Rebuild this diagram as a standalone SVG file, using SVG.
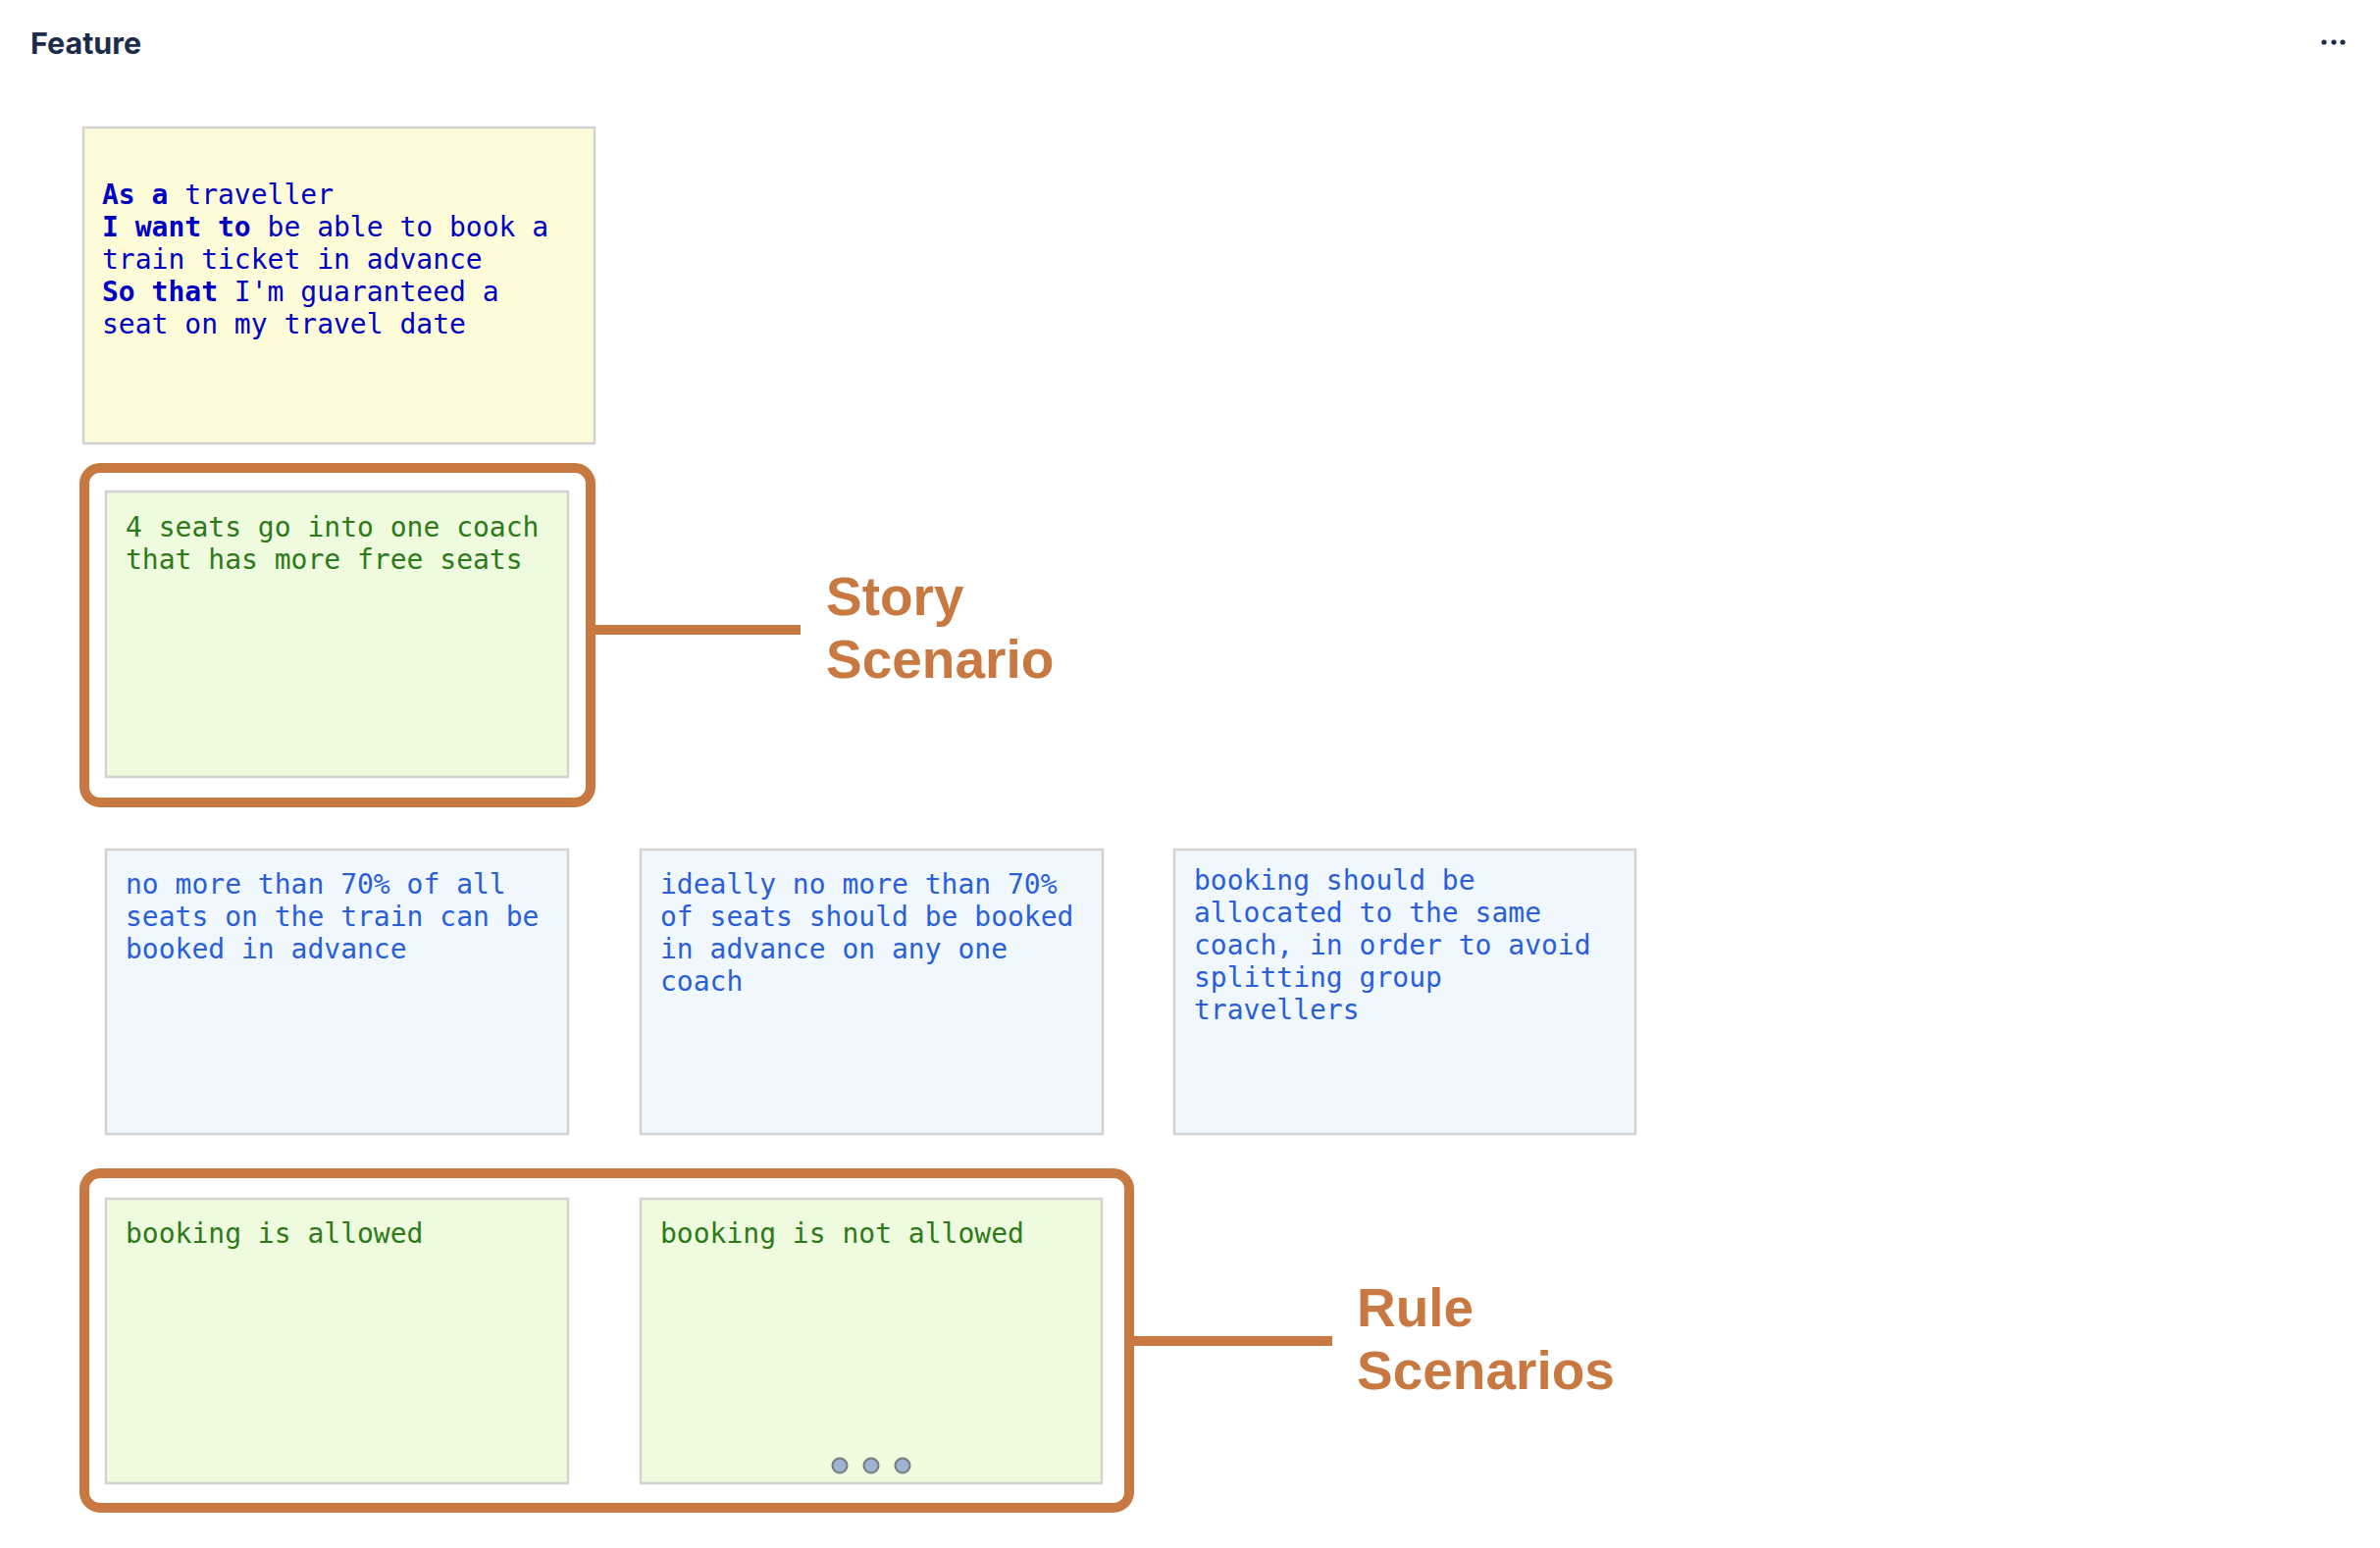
<svg xmlns="http://www.w3.org/2000/svg" width="2426" height="1578" viewBox="0 0 2426 1578">
<style>
.card{stroke:#d2d2d2;stroke-width:2.5}
.yellow{fill:#fefcd8}
.green{fill:#effbdf}
.blue{fill:#f0f7fd}
.mono{font-family:"DejaVu Sans Mono","Liberation Mono",monospace;font-size:28px}
.ty{fill:#0000c0}
.tg{fill:#2d7a18}
.tb{fill:#2a5fd8}
.frame{fill:none;stroke:#c87941;stroke-width:10}
.conn{stroke:#c87941;stroke-width:10;fill:none}
.label{font-family:"Liberation Sans",Arial,sans-serif;font-weight:bold;font-size:55px;fill:#c87941}
.dot{fill:#9db3d4;stroke:#7a7a7a;stroke-width:2}
</style>
<rect width="2426" height="1578" fill="#ffffff"/>
<text x="31" y="55" font-family="Inter,'Noto Sans',sans-serif" font-weight="700" font-size="30.5" fill="#1c2b4a">Feature</text>
<g id="menu" fill="#1c2b4a">
<circle cx="2369" cy="43" r="2.6"/>
<circle cx="2379" cy="43" r="2.6"/>
<circle cx="2388" cy="43" r="2.6"/>
</g>
<g id="story-card">
<rect class="card yellow" x="85" y="130" width="521" height="322"/>
<text class="mono ty"><tspan x="104" y="208"><tspan font-weight="bold">As a</tspan> traveller</tspan><tspan x="104" y="241"><tspan font-weight="bold">I want to</tspan> be able to book a</tspan><tspan x="104" y="274">train ticket in advance</tspan><tspan x="104" y="307"><tspan font-weight="bold">So that</tspan> I'm guaranteed a</tspan><tspan x="104" y="340">seat on my travel date</tspan></text>
</g>
<g id="story-scenario-frame">
<rect class="frame" x="86" y="477" width="516" height="341" rx="16"/>
</g>
<g id="story-scenario">
<rect class="card green" x="108" y="501" width="471" height="291"/>
<text class="mono tg"><tspan x="128" y="547">4 seats go into one coach</tspan><tspan x="128" y="580">that has more free seats</tspan></text>
</g>
<g id="story-scenario-label">
<text class="label"><tspan x="842" y="627">Story</tspan><tspan x="842" y="691">Scenario</tspan></text>
</g>
<g id="rule-1">
<rect class="card blue" x="108" y="866" width="471" height="290"/>
<text class="mono tb"><tspan x="128" y="911">no more than 70% of all</tspan><tspan x="128" y="944">seats on the train can be</tspan><tspan x="128" y="977">booked in advance</tspan></text>
</g>
<g id="rule-2">
<rect class="card blue" x="653" y="866" width="471" height="290"/>
<text class="mono tb"><tspan x="673" y="911">ideally no more than 70%</tspan><tspan x="673" y="944">of seats should be booked</tspan><tspan x="673" y="977">in advance on any one</tspan><tspan x="673" y="1010">coach</tspan></text>
</g>
<g id="rule-3">
<rect class="card blue" x="1197" y="866" width="470" height="290"/>
<text class="mono tb"><tspan x="1217" y="907">booking should be</tspan><tspan x="1217" y="940">allocated to the same</tspan><tspan x="1217" y="973">coach, in order to avoid</tspan><tspan x="1217" y="1006">splitting group</tspan><tspan x="1217" y="1039">travellers</tspan></text>
</g>
<g id="rule-scenarios-frame">
<rect class="frame" x="86" y="1196" width="1065" height="341" rx="16"/>
</g>
<g id="rule-scenario-1">
<rect class="card green" x="108" y="1222" width="471" height="290"/>
<text class="mono tg" x="128" y="1267">booking is allowed</text>
</g>
<g id="rule-scenario-2">
<rect class="card green" x="653" y="1222" width="470" height="290"/>
<text class="mono tg" x="673" y="1267">booking is not allowed</text>
<circle class="dot" cx="856" cy="1494" r="7.5"/>
<circle class="dot" cx="888" cy="1494" r="7.5"/>
<circle class="dot" cx="920" cy="1494" r="7.5"/>
</g>
<g id="rule-scenarios-label">
<text class="label"><tspan x="1383" y="1352">Rule</tspan><tspan x="1383" y="1416">Scenarios</tspan></text>
</g>
<g id="connectors">
<line class="conn" x1="605" y1="642" x2="816" y2="642"/>
<line class="conn" x1="1154" y1="1367" x2="1358" y2="1367"/>
</g>
</svg>
